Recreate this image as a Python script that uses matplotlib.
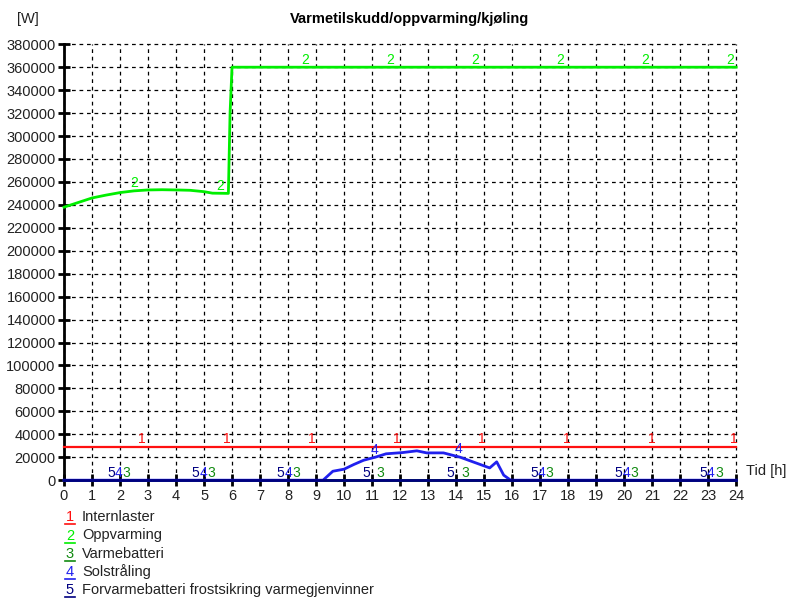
import numpy as np
import matplotlib.pyplot as plt
from matplotlib.lines import Line2D

plt.rcParams['font.family'] = ['Liberation Sans', 'DejaVu Sans']

# Series data (time in hours, power in W)
intern_t = [0, 24]
intern_w = [28800, 28800]

oppv_t = [0, 0.5, 1, 1.5, 2, 2.5, 3, 3.5, 4, 4.5, 5, 5.3, 5.87, 5.93, 6.0, 24]
oppv_w = [238000, 242000, 246000, 248500, 250700, 252200, 253000, 253200,
          253000, 252700, 251500, 250200, 250000, 320000, 360000, 360000]

varmebatt_t = [0, 24]
varmebatt_w = [0, 0]

sol_t = [0, 9.25, 9.6, 10.0, 10.35, 10.7, 11.15, 11.5, 12.1, 12.6, 12.95,
         13.55, 14.15, 14.6, 15.2, 15.45, 15.7, 15.95, 24]
sol_w = [0, 0, 7800, 9600, 13700, 17400, 20300, 23000, 24100, 25600, 23800,
         23800, 20000, 16000, 10700, 16000, 4400, 0, 0]

forvarme_t = [0, 24]
forvarme_w = [0, 0]

names = ["Internlaster", "Oppvarming", "Varmebatteri", "Solstråling",
         "Forvarmebatteri frostsikring varmegjenvinner"]
colors = ["#ff1010", "#00ee00", "#108a10", "#2020ee", "#000080"]
widths = [1.6, 2.0, 2.0, 2.0, 2.0]

# x positions of the inline series numbers
label_x = [
    [2.77, 5.81, 8.85, 11.88, 14.92, 17.96, 21.0, 23.92],
    [2.5, 5.57, 8.6, 11.64, 14.68, 17.7, 20.75, 23.8],
    [2.24, 5.26, 8.28, 11.3, 14.32, 17.34, 20.36, 23.38],
    [1.96, 4.98, 8.0, 11.1, 14.1, 17.06, 20.08, 23.1],
    [1.68, 4.7, 7.72, 10.8, 13.8, 16.78, 19.8, 22.82],
]

series = [(intern_t, intern_w), (oppv_t, oppv_w), (varmebatt_t, varmebatt_w),
          (sol_t, sol_w), (forvarme_t, forvarme_w)]

fig = plt.figure(figsize=(7.88, 5.98), dpi=100)
ax = fig.add_axes([0.0812, 0.197, 0.853, 0.729])

for i, (t, w) in enumerate(series):
    ax.plot(t, w, color=colors[i], lw=widths[i], zorder=3 + i * 0.1,
            clip_on=False)
    for x in label_x[i]:
        y = np.interp(x, t, w)
        ax.text(x, y + 600, str(i + 1), color=colors[i], fontsize=10,
                ha='center', va='bottom', zorder=5)

ax.set_xlim(0, 24)
ax.set_ylim(0, 380000)
ax.set_xticks(np.arange(0, 25, 1))
ax.set_yticks(np.arange(0, 380001, 20000))
ax.grid(True, color='black', linestyle=(0, (3, 3)), linewidth=0.9)
for gl in ax.get_xgridlines() + ax.get_ygridlines():
    gl.set_clip_on(False)

for side in ['top', 'right']:
    ax.spines[side].set_visible(False)
ax.spines['left'].set_linewidth(2)
ax.spines['bottom'].set_linewidth(2)
ax.tick_params(direction='inout', length=8, width=2, colors='black',
               labelcolor='#222222', labelsize=10.5, pad=2)

fig.text(0.035, 0.968, "[W]", fontsize=10.5, color='#222222', ha='center', va='center')
fig.text(0.52, 0.968, "Varmetilskudd/oppvarming/kjøling", fontsize=10.5,
         fontweight='bold', ha='center', va='center')
fig.text(0.947, 0.213, "Tid [h]", fontsize=10.5, color='#222222', ha='left', va='center')

# legend below the plot
leg_y = [517, 535.5, 554, 572, 590]
for i, name in enumerate(names):
    yf = 1 - leg_y[i] / 598
    fig.text(70 / 788, yf, str(i + 1), color=colors[i], fontsize=10.5,
             ha='center', va='center')
    fig.add_artist(Line2D([65 / 788, 75 / 788], [yf - 7 / 598, yf - 7 / 598],
                          color=colors[i], lw=1.2, transform=fig.transFigure))
    fig.text(82 / 788, yf, name, color='#222222', fontsize=10.5,
             ha='left', va='center')

fig.savefig("out.png", dpi=100)
